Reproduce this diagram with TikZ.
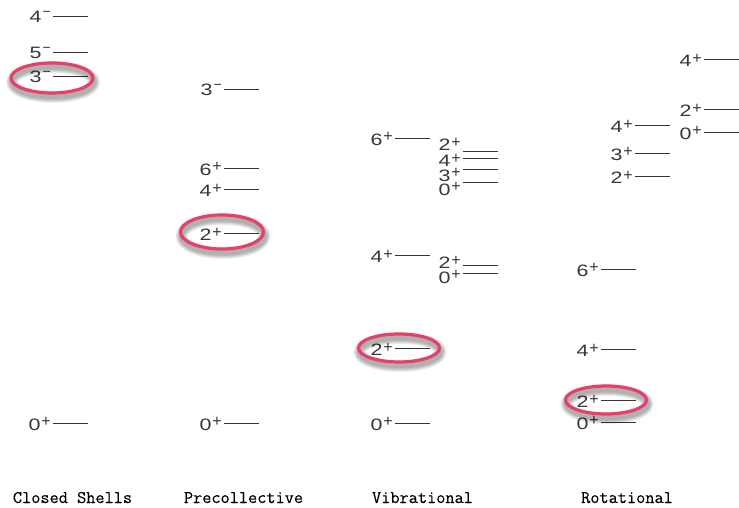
\documentclass[tikz,border=0pt]{standalone}
\usepackage{fontspec}
\usetikzlibrary{shapes.geometric}
\newfontfamily\levfont[FakeStretch=1.3]{Liberation Sans}
\newfontfamily\supfont{Liberation Sans}
\newfontfamily\titlefont[FakeBold=0.25]{Latin Modern Mono}
\definecolor{ringred}{RGB}{233,62,104}
\definecolor{levgray}{RGB}{55,55,55}

% level: name, line left x, line y, spin-parity text
\newcommand\lvl[4]{%
  \node[lab, anchor=east] (#1) at ({#2-2},{#3+1}) {#4};
  \draw[level] (#2,#3) -- ++(35,0);}
% level with a separately placed label: name, line x, line y, label east x, label y, text
\newcommand\lvlat[6]{%
  \node[lab, anchor=east] (#1) at (#4,#5) {#6};
  \draw[level] (#2,#3) -- ++(35,0);}
% highlight ring with a soft shadow: name, x, y, width, height
\newcommand\hring[5]{%
  \foreach \k in {1,...,6}
    \draw[black, opacity=0.06, line width={3+1.5*\k}]
      ({#2+1},{#3+4}) ellipse [x radius={#4/2}, y radius={#5/2}];
  \node[ringnode, minimum width=#4, minimum height=#5] (#1) at (#2,#3) {};}

% parity superscripts
\newcommand\pl[1]{#1\kern1pt\raisebox{3.2pt}{\supfont\fontsize{16}{16}\selectfont +}}
\newcommand\mi[1]{#1\kern1pt\raisebox{6.5pt}{\supfont\fontsize{14}{14}\selectfont −}}

\begin{document}
\begin{tikzpicture}[x=1pt, y=-1pt,
  lab/.style={inner sep=0pt, font=\levfont\fontsize{16.5}{18}\selectfont, text=levgray},
  level/.style={draw=levgray, line width=1pt},
  title/.style={anchor=base, inner sep=0pt, font=\titlefont\fontsize{17.8}{20}\selectfont},
  ringnode/.style={ellipse, draw=ringred, line width=3.2pt, inner sep=0pt}]
\useasboundingbox (0,0) rectangle (739,507);

% closed shells
\lvl{cs4}{53}{16}{\mi{4}}
\lvl{cs5}{53}{52}{\mi{5}}
\lvl{cs3}{53}{76}{\mi{3}}
\lvl{cs0}{53}{423}{\pl{0}}

% precollective
\lvl{pc3}{224}{89}{\mi{3}}
\lvl{pc6}{224}{168}{\pl{6}}
\lvl{pc4}{224}{189}{\pl{4}}
\lvl{pc2}{224}{233}{\pl{2}}
\lvl{pc0}{224}{423}{\pl{0}}

% vibrational
\lvl{vb6}{395}{138}{\pl{6}}
\lvl{vb4}{395}{255}{\pl{4}}
\lvl{vb2}{395}{348}{\pl{2}}
\lvl{vb0}{395}{423}{\pl{0}}
\lvlat{vt2}{463}{151}{461}{144}{\pl{2}}
\lvlat{vt4}{463}{158}{461}{160}{\pl{4}}
\lvlat{vt3}{463}{169}{461}{175}{\pl{3}}
\lvlat{vt0}{463}{182}{461}{189}{\pl{0}}
\lvlat{vd2}{463}{265}{461}{262}{\pl{2}}
\lvlat{vd0}{463}{273}{461}{277}{\pl{0}}

% rotational
\lvl{rg6}{601}{269}{\pl{6}}
\lvl{rg4}{601}{349}{\pl{4}}
\lvl{rg2}{601}{400}{\pl{2}}
\lvl{rg0}{601}{422}{\pl{0}}
\lvl{rq4}{635}{125}{\pl{4}}
\lvl{rq3}{635}{153}{\pl{3}}
\lvl{rq2}{635}{176}{\pl{2}}
\lvl{rb4}{704}{59}{\pl{4}}
\lvl{rb2}{704}{109}{\pl{2}}
\lvl{rb0}{704}{132}{\pl{0}}

% highlighted first excited states
\hring{r1}{52}{78}{82}{30}
\hring{r2}{222}{232}{83}{34}
\hring{r3}{399}{348}{81}{28}
\hring{r4}{606}{400}{81}{28}

% column titles
\node[title] (t1) at (72.5,503) {Closed Shells};
\node[title] (t2) at (243.5,503) {Precollective};
\node[title] (t3) at (422.5,503) {Vibrational};
\node[title] (t4) at (627,503) {Rotational};
\end{tikzpicture}
\end{document}
